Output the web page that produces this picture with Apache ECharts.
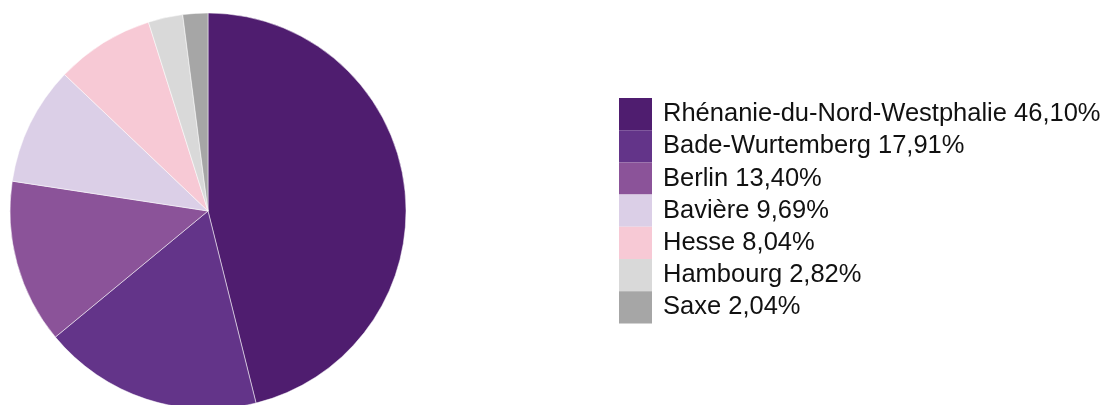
<!DOCTYPE html>
<html>
<head>
<meta charset="utf-8">
<script src="https://cdn.jsdelivr.net/npm/echarts@6/dist/echarts.min.js"></script>
<style>
  html, body { margin: 0; padding: 0; background: #ffffff; }
  #chart { width: 1108px; height: 405px; }
</style>
</head>
<body>
<div id="chart"></div>
<script>
// Répartition par Land (parts en %)
const regions = [
  'Rhénanie-du-Nord-Westphalie',
  'Bade-Wurtemberg',
  'Berlin',
  'Bavière',
  'Hesse',
  'Hambourg',
  'Saxe'
];
const shares = [46.10, 17.91, 13.40, 9.69, 8.04, 2.82, 2.04];
const palette = ['#4f1d6f', '#633489', '#8b5399', '#dbcfe7', '#f7c9d5', '#d9d9d9', '#a6a6a6'];

const fmt = v => v.toFixed(2).replace('.', ',') + '%';
const shareByName = {};
regions.forEach((r, i) => { shareByName[r] = shares[i]; });

const chart = echarts.init(document.getElementById('chart'), null, { renderer: 'canvas' });
chart.setOption({
  animation: false,
  color: palette,
  legend: {
    orient: 'vertical',
    left: 619,
    top: 98,
    padding: 0,
    itemWidth: 33,
    itemHeight: 32.2,
    itemGap: 0,
    icon: 'rect',
    selectedMode: false,
    itemStyle: { borderWidth: 0 },
    formatter: name => name + ' ' + fmt(shareByName[name]),
    textStyle: {
      fontFamily: 'Liberation Sans',
      fontSize: 25.5,
      color: '#111111',
      padding: [0, 0, 0, 6]
    },
    data: regions
  },
  series: [{
    type: 'pie',
    center: [208, 211],
    radius: [0, 198],
    startAngle: 90,
    clockwise: true,
    label: { show: false },
    labelLine: { show: false },
    emphasis: { disabled: true },
    itemStyle: { borderColor: '#ffffff', borderWidth: 0.5 },
    data: regions.map((r, i) => ({ name: r, value: shares[i] }))
  }]
});
</script>
</body>
</html>
